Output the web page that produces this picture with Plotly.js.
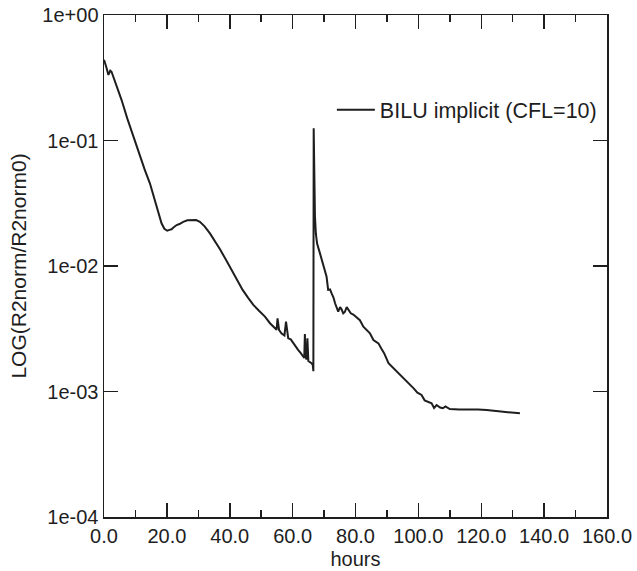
<!DOCTYPE html>
<html>
<head>
<meta charset="utf-8">
<script src="https://cdn.plot.ly/plotly-3.0.1.min.js"></script>
<style>html,body{margin:0;padding:0;background:#fff;}#chart{width:637px;height:571px;}</style>
</head>
<body>
<div id="chart"></div>
<script>
// Time in hours
var hours = [0.0, 0.3, 0.8, 1.4, 2.0, 2.4, 3.0, 4.2, 5.6, 7.4, 9.3, 11.5, 13.0, 14.6, 16.7, 18.3, 19.2, 20.1, 20.8, 21.5, 22.2, 23.1, 24.0, 25.2, 26.5, 27.9, 29.3, 30.5, 32.0, 33.7, 35.3, 36.9, 38.8, 40.6, 42.3, 44.1, 45.8, 47.5, 49.3, 51.2, 52.8, 54.4, 54.9, 55.2, 55.5, 55.7, 56.5, 57.4, 57.9, 58.3, 58.6, 59.4, 60.2, 61.0, 61.8, 62.6, 63.4, 63.7, 63.9, 64.1, 64.4, 64.7, 65.0, 65.4, 66.0, 66.4, 66.6, 66.7, 66.9, 67.1, 67.4, 67.8, 68.7, 69.5, 70.3, 70.8, 71.3, 71.9, 72.4, 73.0, 73.5, 74.0, 74.5, 75.1, 75.6, 76.1, 76.6, 77.2, 77.7, 78.5, 79.3, 80.3, 81.4, 82.5, 83.5, 84.6, 85.7, 86.5, 87.3, 88.2, 89.1, 90.5, 91.6, 92.8, 94.3, 95.8, 97.3, 98.5, 99.7, 101.0, 102.0, 103.2, 104.2, 105.0, 105.8, 106.9, 107.8, 108.6, 110.0, 113.0, 116.4, 119.0, 121.7, 124.3, 127.0, 129.6, 132.3];
// Normalised residual R2norm/R2norm0
var residual = [0.44, 0.42, 0.38, 0.333, 0.36, 0.353, 0.32, 0.27, 0.21, 0.15, 0.107, 0.0743, 0.058, 0.0456, 0.0297, 0.0219, 0.0198, 0.0191, 0.0194, 0.0196, 0.0204, 0.0212, 0.0216, 0.0225, 0.0231, 0.0233, 0.0232, 0.0225, 0.0207, 0.0182, 0.0158, 0.0136, 0.0112, 0.0093, 0.0077, 0.00645, 0.0056, 0.0049, 0.0044, 0.00395, 0.0035, 0.00319, 0.0031, 0.00383, 0.0031, 0.00309, 0.0029, 0.0028, 0.0036, 0.0029, 0.00265, 0.0026, 0.00242, 0.00228, 0.00214, 0.00202, 0.00189, 0.00185, 0.00287, 0.0019, 0.0018, 0.00265, 0.00175, 0.00173, 0.00168, 0.00163, 0.00145, 0.125, 0.045, 0.025, 0.018, 0.015, 0.0126, 0.0108, 0.0093, 0.0082, 0.00645, 0.0065, 0.00605, 0.0056, 0.00505, 0.0047, 0.00433, 0.0047, 0.0045, 0.0042, 0.0043, 0.0047, 0.00446, 0.0042, 0.0041, 0.0039, 0.0037, 0.00328, 0.0031, 0.00291, 0.00257, 0.0025, 0.00242, 0.0022, 0.00202, 0.00168, 0.00158, 0.00148, 0.00135, 0.00125, 0.00113, 0.00106, 0.00098, 0.000938, 0.00085, 0.00083, 0.000805, 0.00074, 0.00078, 0.000745, 0.000735, 0.00076, 0.000724, 0.00072, 0.000722, 0.000718, 0.000712, 0.000705, 0.00069, 0.00068, 0.00067];

var seriesName = "BILU implicit (CFL=10)";
var yTickVals = [1e-4, 1e-3, 1e-2, 1e-1, 1];
var yTickText = ["1e-04", "1e-03", "1e-02", "1e-01", "1e+00"];
var xTitle = "hours";
var yTitle = "LOG(R2norm/R2norm0)";

var ink = "#1e1e1e";
var fontFam = "Liberation Sans, Arial, sans-serif";

var trace = {
  x: hours,
  y: residual,
  type: "scatter",
  mode: "lines",
  name: seriesName,
  line: {color: ink, width: 2}
};

var layout = {
  width: 637,
  height: 571,
  margin: {l: 104, r: 30, t: 15, b: 54},
  paper_bgcolor: "#fff",
  plot_bgcolor: "#fff",
  font: {family: fontFam, size: 20, color: ink},
  showlegend: true,
  legend: {
    x: 0.453, y: 0.811, xanchor: "left", yanchor: "middle",
    bgcolor: "rgba(0,0,0,0)", borderwidth: 0,
    font: {family: fontFam, size: 21.5, color: ink},
    itemwidth: 38
  },
  xaxis: {
    range: [0, 160],
    dtick: 20,
    tick0: 0,
    tickformat: ".1f",
    ticks: "inside",
    ticklen: 14,
    tickwidth: 1.5,
    tickcolor: ink,
    minor: {dtick: 10, ticks: "inside", ticklen: 7, tickwidth: 1.5, tickcolor: ink},
    showline: true,
    linecolor: ink,
    linewidth: 1.5,
    mirror: "allticks",
    showgrid: false,
    zeroline: false,
    tickfont: {family: fontFam, size: 20, color: ink},
    title: {text: xTitle, font: {family: fontFam, size: 20, color: ink}, standoff: 6}
  },
  yaxis: {
    type: "log",
    range: [-4, 0],
    tickvals: yTickVals,
    ticktext: yTickText,
    ticks: "inside",
    ticklen: 14,
    tickwidth: 1.5,
    tickcolor: ink,
    showline: true,
    linecolor: ink,
    linewidth: 1.5,
    mirror: "allticks",
    showgrid: false,
    zeroline: false,
    tickfont: {family: fontFam, size: 20, color: ink},
    title: {text: yTitle, font: {family: fontFam, size: 21, color: ink}, standoff: 10}
  }
};

Plotly.newPlot("chart", [trace], layout, {staticPlot: true, displayModeBar: false});
</script>
</body>
</html>
